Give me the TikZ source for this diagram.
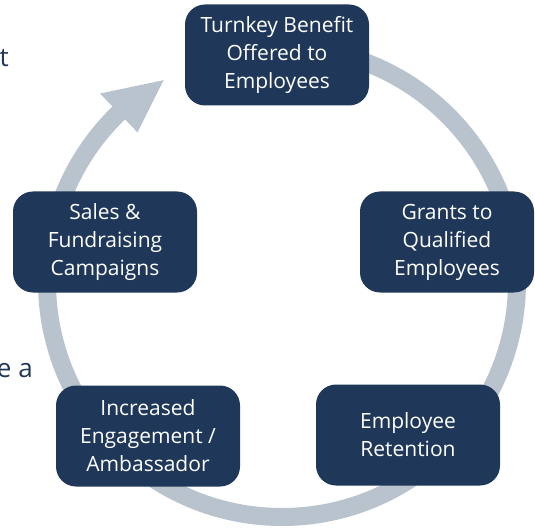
\documentclass[tikz,border=0pt]{standalone}
\usepackage{fontspec}
\setmainfont{Open Sans}
\usetikzlibrary{calc}
\definecolor{navy}{HTML}{1F3759}
\definecolor{ringgray}{HTML}{B9C3CE}
\begin{document}
\begin{tikzpicture}[x=1pt,y=1pt,
  stage/.style={fill=navy, rounded corners=20pt, minimum width=184pt,
    minimum height=101pt, text=white, align=center, inner sep=0pt,
    font=\fontsize{21}{28}\selectfont},
  cut/.style={text=navy, font=\fontsize{26}{30}\selectfont, inner sep=0pt,
    anchor=base east}]
\useasboundingbox (0,0) rectangle (535,-529);
\coordinate (c) at (282,-282);
% cycle ring, running clockwise from the top and ending in an arrowhead
\draw[ringgray, line width=18pt]
  ($(c)+(90:235pt)$) arc[start angle=90, end angle=-227, radius=235pt];
\fill[ringgray] ($(c)+(120.4:234pt)$) -- ($(c)+(134:262pt)$)
  -- ($(c)+(134:208pt)$) -- cycle;
% stages
\node[stage] (offer) at (277,-55) {Turnkey Benefit\\Offered to\\Employees};
\node[stage, minimum width=174pt] (grants) at (447,-242) {Grants to\\Qualified\\Employees};
\node[stage] (sales) at (105,-242) {Sales \&\\Fundraising\\Campaigns};
\node[stage] (engage) at (148,-436) {Increased\\Engagement /\\Ambassador};
\node[stage] (retain) at (408,-435) {Employee\\Retention};
% text running in from the left edge
\node[cut] (frag1) at (9,-67) {t};
\node[cut] (frag2) at (33,-377) {e a};
\end{tikzpicture}
\end{document}
